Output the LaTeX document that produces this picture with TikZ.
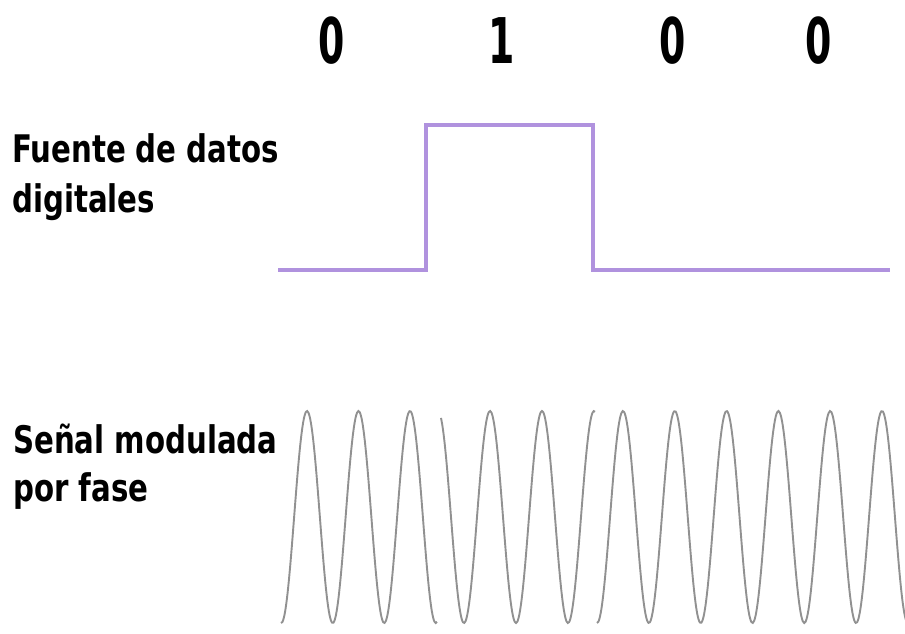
\documentclass[tikz,border=0pt]{standalone}
\usepackage{fontspec}
\newfontfamily\labfont[FakeStretch=0.855]{DejaVu Sans Condensed}
\newfontfamily\digfont[FakeStretch=0.6]{DejaVu Sans}
\definecolor{lav}{RGB}{176,146,222}
\definecolor{wave}{RGB}{145,145,145}
\tikzset{
  lab/.style={anchor=base west, inner sep=0pt, font=\labfont\bfseries\fontsize{38}{50}\selectfont},
  digit/.style={anchor=base, inner sep=0pt, font=\digfont\bfseries\fontsize{63}{63}\selectfont},
  sq/.style={draw=lav, line width=3.5pt, line join=miter},
  carrier/.style={draw=wave, line width=1.9pt, smooth}
}
\begin{document}
\begin{tikzpicture}[x=1pt,y=-1pt]
\useasboundingbox (0,0) rectangle (905,633);
\fill[white] (0,0) rectangle (905,633);
% bits
\foreach \n/\x/\b in {b1/332/0,b2/502/1,b3/673/0,b4/819/0}{
  \node[digit] (\n) at (\x,63) {\b};
}
% labels
\node[lab] (fuente1) at (12,162) {Fuente de datos};
\node[lab] (fuente2) at (12,212) {digitales};
\node[lab] (senal1) at (13,453) {Señal modulada};
\node[lab] (senal2) at (13,501) {por fase};
% digital data
\coordinate (s0) at (278,270);
\coordinate (s1) at (426,270);
\coordinate (s2) at (426,125);
\coordinate (s3) at (593,125);
\coordinate (s4) at (593,270);
\coordinate (s5) at (890,270);
\draw[sq] (s0) -- (s1) -- (s2) -- (s3) -- (s4) -- (s5);
% phase modulated carrier
\draw[carrier] plot[domain=281:437, samples=120] (\x, {517 - 106*cos((\x-307)/51.5*360)});
\draw[carrier] plot[domain=441:595, samples=120] (\x, {517 - 106*cos((\x-490)/52*360)});
\draw[carrier] plot[domain=597:910, samples=220] (\x, {517 - 106*cos((\x-623)/51.8*360)});
\end{tikzpicture}
\end{document}
